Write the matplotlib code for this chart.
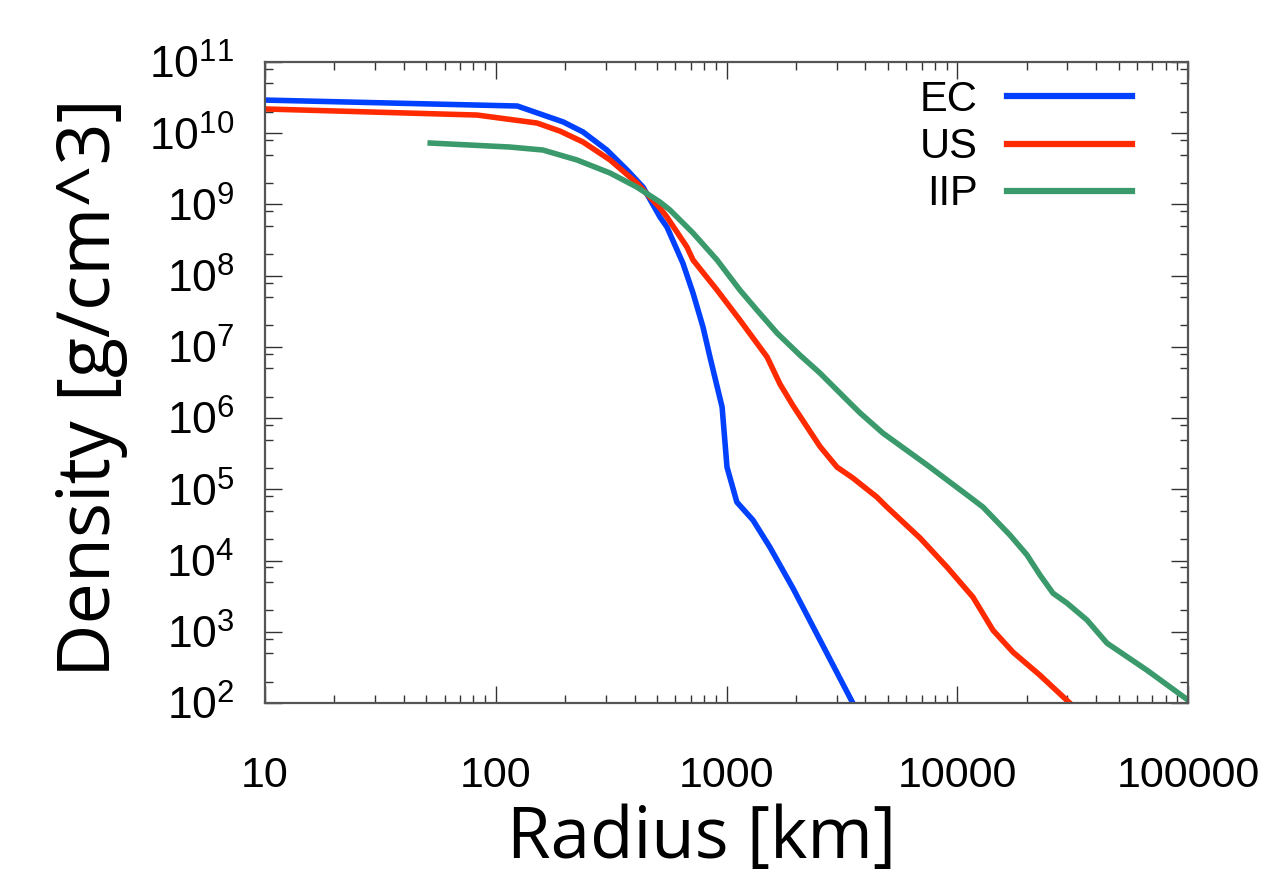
import numpy as np
import matplotlib
matplotlib.use('Agg')
import matplotlib.pyplot as plt
from matplotlib.ticker import LogLocator, FixedLocator, FixedFormatter, NullFormatter

plt.rcParams['font.family'] = ['Liberation Sans', 'DejaVu Sans']
plt.rcParams['mathtext.fontset'] = 'custom'
plt.rcParams['mathtext.rm'] = 'Liberation Sans'
plt.rcParams['mathtext.it'] = 'Liberation Sans'

# Density profiles (radius in km, density in g/cm^3)
ec_r = [10, 124, 196, 239, 303, 371, 435, 515, 552, 647, 716, 791, 848,
        957, 1005, 1109, 1303, 1542, 1941, 3532]
ec_rho = [2.92e10, 2.41e10, 1.44e10, 1.04e10, 5.81e9, 3.04e9, 1.75e9, 6.65e8,
          4.82e8, 1.50e8, 5.70e7, 1.90e7, 7.19e6, 1.43e6, 2.05e5, 6.61e4,
          3.69e4, 1.54e4, 4.09e3, 99]

us_r = [10, 83, 151, 190, 239, 313, 409, 515, 552, 674, 716, 910, 1143, 1500,
        1706, 1941, 2541, 3013, 3532, 4487, 4963, 6902, 9036, 11700,
        14290, 17450, 22850, 30830]
us_rho = [2.19e10, 1.80e10, 1.39e10, 1.07e10, 7.52e9, 4.21e9, 2.00e9, 8.9e8,
          6.65e8, 2.52e8, 1.66e8, 6.28e7, 2.38e7, 7.19e6, 3.0e6,
          1.5e6, 4.0e5, 2.05e5, 1.44e5, 7.77e4, 5.62e4, 2.07e4, 8.07e3,
          3.06e3, 1.05e3, 517, 245, 99]

iip_r = [52, 115, 160, 225, 313, 409, 515, 569, 716, 910, 1143, 1355, 1657,
         2080, 2541, 3428, 3794, 4764, 7396, 11350, 12940, 16940, 20050,
         22850, 26000, 29920, 36510, 44560, 66370, 100000]
iip_rho = [7.28e9, 6.40e9, 5.81e9, 4.21e9, 2.76e9, 1.75e9, 1.08e9, 8.35e8,
           3.97e8, 1.66e8, 6.28e7, 3.29e7, 1.56e7, 7.67e6, 4.29e6, 1.63e6,
           1.18e6, 6.15e5, 2.2e5, 7.77e4, 5.62e4, 2.27e4, 1.2e4, 6.24e3,
           3.48e3, 2.52e3, 1.46e3, 692, 289, 110]

x_ticks = [10, 100, 1000, 10000, 100000]
x_ticklabels = ['10', '100', '1000', '10000', '100000']

fig = plt.figure(figsize=(12.73, 8.82), dpi=100)
ax = fig.add_axes([265 / 1273, 1 - 703 / 882, 923 / 1273, 641 / 882])

lw = 4.0
ax.plot(ec_r, ec_rho, color='#0040ff', lw=lw, label='EC', solid_joinstyle='round')
ax.plot(us_r, us_rho, color='#ff2a00', lw=lw, label='US', solid_joinstyle='round')
ax.plot(iip_r, iip_rho, color='#3a9a6b', lw=lw, label='IIP', solid_joinstyle='round')

ax.set_xscale('log')
ax.set_yscale('log')
ax.set_xlim(10, 100000)
ax.set_ylim(1e2, 1e11)

ax.xaxis.set_major_locator(FixedLocator(x_ticks))
ax.xaxis.set_major_formatter(FixedFormatter(x_ticklabels))
ax.xaxis.set_minor_locator(LogLocator(base=10, subs=np.arange(2, 10)))
ax.xaxis.set_minor_formatter(NullFormatter())
ax.yaxis.set_major_locator(LogLocator(base=10, numticks=20))
ax.yaxis.set_minor_locator(LogLocator(base=10, subs=(2, 5, 8), numticks=20))
ax.yaxis.set_minor_formatter(NullFormatter())

ax.tick_params(which='both', direction='in', top=True, right=True,
               color='#333333', width=1.0)
ax.tick_params(which='major', length=12)
ax.tick_params(which='minor', length=6)
ax.tick_params(axis='x', which='major', labelsize=31, pad=38)
ax.tick_params(axis='y', which='major', labelsize=32, pad=22)

for sp in ax.spines.values():
    sp.set_color('#555555')
    sp.set_linewidth(1.6)

fig.text(702 / 1273, 1 - 858 / 882, 'Radius [km]', ha='center', va='baseline',
         fontsize=51, family='Open Sans')
fig.text(110 / 1273, 1 - 388 / 882, 'Density [g/cm^3]', ha='center', va='baseline',
         rotation=90, rotation_mode='anchor', fontsize=53, family='Open Sans')

leg = ax.legend(loc='upper right', bbox_to_anchor=((1132 - 265) / 923, (703 - 80) / 641),
                frameon=False, markerfirst=False, fontsize=30, handlelength=3.0,
                handletextpad=0.7, labelspacing=0.17, borderpad=0, borderaxespad=0)
for h in leg.get_lines():
    h.set_linewidth(4.5)

fig.savefig('out.png', dpi=100)
